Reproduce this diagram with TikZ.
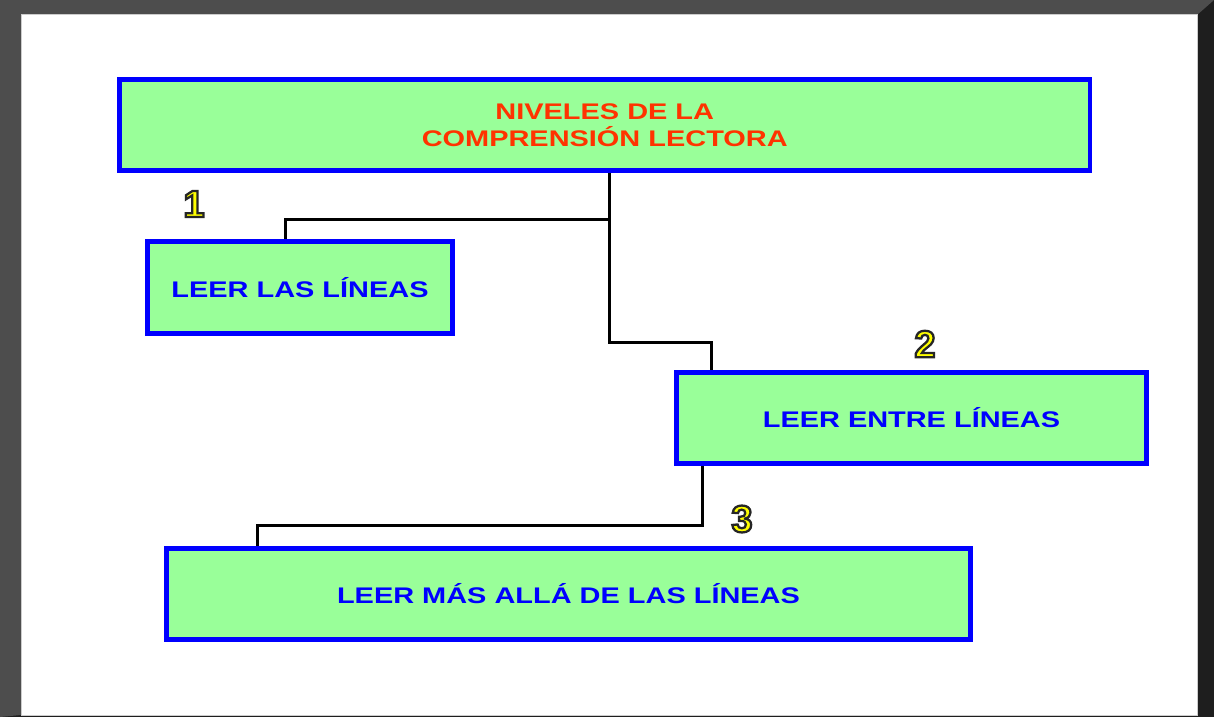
\documentclass[tikz,border=0pt]{standalone}
\usepackage{fontspec}
\setmainfont{Liberation Sans}
\newfontfamily\boxfont[FakeStretch=1.28]{Liberation Sans}
\font\numf="Liberation Sans Bold:embolden=6" at 38pt
\definecolor{framelight}{HTML}{4D4D4D}
\definecolor{framedark}{HTML}{1E1E1E}
\definecolor{boxgreen}{HTML}{99FF99}
\definecolor{boxblue}{HTML}{0000FF}
\definecolor{titlered}{HTML}{FF3300}
\newcommand\outlinednum[1]{\special{pdf:bcolor [1 1 0] [0.15 0.15 0.15]}{\numf #1}\special{pdf:ecolor}}
\tikzset{
  levelbox/.style={draw=boxblue, line width=4.5pt, fill=boxgreen, inner sep=0pt,
    align=center, font=\boxfont\bfseries\fontsize{22.6}{27}\selectfont, text=boxblue},
  conn/.style={draw=black, line width=3pt},
  numlabel/.style={inner sep=0pt},
}
\begin{document}
\begin{tikzpicture}[x=1pt, y=-1pt]
\useasboundingbox (0,0) rectangle (1214,717);
% frame
\fill[framedark] (0,0) rectangle (1214,717);
\fill[framelight] (0,0) -- (1214,0) -- (1197,15) -- (21,15) -- (21,715) -- (0,717) -- cycle;
\fill[white] (21,15) rectangle (1197,715);
\draw[gray!40, line width=1pt] (21,15) rectangle (1197,715);
% boxes
\node[levelbox, minimum width=970.5pt, minimum height=91pt, text=titlered] (top) at (604.75,125) {NIVELES DE LA\\COMPRENSIÓN LECTORA};
\node[levelbox, minimum width=305pt, minimum height=92pt] (b1) at (300,287.5) {LEER LAS LÍNEAS};
\node[levelbox, minimum width=470pt, minimum height=91pt] (b2) at (911.5,418) {LEER ENTRE LÍNEAS};
\node[levelbox, minimum width=804pt, minimum height=91pt] (b3) at (568.5,594) {LEER MÁS ALLÁ DE LAS LÍNEAS};
% numbers
\node[numlabel] (n1) at (194,204) {\outlinednum{1}};
\node[numlabel] (n2) at (925,344) {\outlinednum{2}};
\node[numlabel] (n3) at (742,519) {\outlinednum{3}};
% connectors
\coordinate (c1) at (609.5,342);
\coordinate (c2) at (711.5,342);
\coordinate (j1) at (609.5,219);
\coordinate (j2) at (285,219);
\coordinate (d1) at (702.5,525);
\coordinate (d2) at (257,525);
\draw[conn] (top.south -| c1) -- (c1) -- (c2) -- (c2 |- b2.north);
\draw[conn] (j1) -- (j2) -- (j2 |- b1.north);
\draw[conn] (d1 |- b2.south) -- (d1) -- (d2) -- (d2 |- b3.north);
\end{tikzpicture}
\end{document}
